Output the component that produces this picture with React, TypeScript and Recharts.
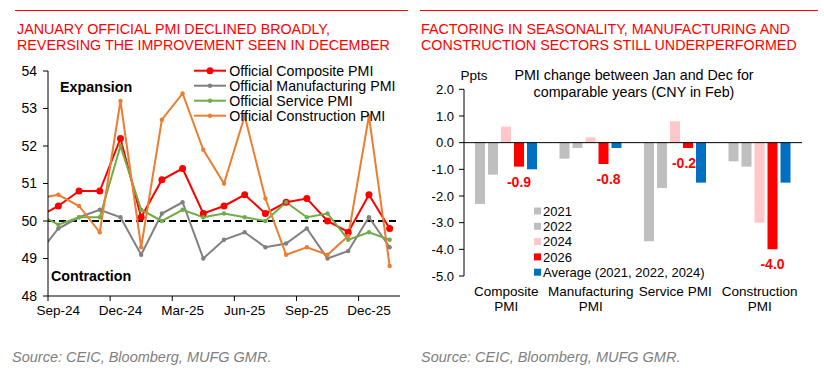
import React from "react";
import { LineChart, Line, XAxis, YAxis, ReferenceLine, BarChart, Bar, LabelList } from "recharts";

const FONT = "'Liberation Sans', Arial, sans-serif";

// left chart: official PMI, monthly (Aug-24 sits just outside the axis window)
const MONTHS = ["Aug-24", "Sep-24", "Oct-24", "Nov-24", "Dec-24", "Jan-25", "Feb-25", "Mar-25", "Apr-25", "May-25", "Jun-25", "Jul-25", "Aug-25", "Sep-25", "Oct-25", "Nov-25", "Dec-25", "Jan-26"];
const COMPOSITE = [50.1, 50.4, 50.8, 50.8, 52.2, 50.1, 51.1, 51.4, 50.2, 50.4, 50.7, 50.2, 50.5, 50.6, 50.0, 49.7, 50.7, 49.8];
const MANUFACTURING = [49.1, 49.8, 50.1, 50.3, 50.1, 49.1, 50.2, 50.5, 49.0, 49.5, 49.7, 49.3, 49.4, 49.8, 49.0, 49.2, 50.1, 49.3];
const SERVICE = [50.2, 49.9, 50.1, 50.1, 52.0, 50.3, 50.0, 50.3, 50.1, 50.2, 50.1, 50.0, 50.5, 50.1, 50.2, 49.5, 49.7, 49.5];
const CONSTRUCTION = [50.6, 50.7, 50.4, 49.7, 53.2, 49.3, 52.7, 53.4, 51.9, 51.0, 52.8, 50.6, 49.1, 49.3, 49.1, 49.6, 52.8, 48.8];
const PMI_TICKS = [48, 49, 50, 51, 52, 53, 54];
const QUARTER_TICKS = [0.5, 3.5, 6.5, 9.5, 12.5, 15.5];

// right chart: Jan minus Dec change, ppts
const SECTORS = ["Composite\nPMI", "Manufacturing\nPMI", "Service PMI", "Construction\nPMI"];
const Y2021 = [-2.3, -0.6, -3.7, -0.7];
const Y2022 = [-1.2, -0.2, -1.7, -0.9];
const Y2024 = [0.6, 0.2, 0.8, -3.0];
const Y2026 = [-0.9, -0.8, -0.2, -4.0];
const AVERAGE = [-1.0, -0.2, -1.5, -1.5];
const CHANGE_TICKS = [-5, -4, -3, -2, -1, 0, 1, 2];

const pmiRows = MONTHS.map((m, i) => ({
  i, month: m,
  composite: COMPOSITE[i], manufacturing: MANUFACTURING[i], service: SERVICE[i], construction: CONSTRUCTION[i],
}));

const changeRows = SECTORS.map((s, i) => ({
  name: s, y2021: Y2021[i], y2022: Y2022[i], y2024: Y2024[i], y2026: Y2026[i], avg: AVERAGE[i],
}));

const LINES = [
  { key: "composite", name: "Official Composite PMI", color: "#FF0000", r: 3.5 },
  { key: "manufacturing", name: "Official Manufacturing PMI", color: "#808080", r: 2.2 },
  { key: "service", name: "Official Service PMI", color: "#70AD47", r: 2.2 },
  { key: "construction", name: "Official Construction PMI", color: "#ED7D31", r: 2.2 },
];

const BARS = [
  { key: "y2021", name: "2021", color: "#BFBFBF" },
  { key: "y2022", name: "2022", color: "#BFBFBF" },
  { key: "y2024", name: "2024", color: "#FFC7C7" },
  { key: "y2026", name: "2026", color: "#FF0000" },
  { key: "avg", name: "Average (2021, 2022, 2024)", color: "#0070C0" },
];

const LABEL_DX = [0, 5, -4, 0];

// eslint-disable-next-line @typescript-eslint/no-explicit-any
function MonthTick({ x, y, payload }: any) {
  const label = MONTHS[payload.value + 0.5];
  return (
    <text x={x + 10.35} y={y} dy={14} textAnchor="middle" fontSize={13.5} fill="#000" fontFamily={FONT}>{label}</text>
  );
}

// eslint-disable-next-line @typescript-eslint/no-explicit-any
function SectorTick({ x, y, payload }: any) {
  const lines = String(payload.value).split("\n");
  return (
    <text x={x} y={y} textAnchor="middle" fontSize={13.5} fill="#000" fontFamily={FONT}>
      {lines.map((l, k) => <tspan key={k} x={x} dy={k === 0 ? 20 : 15}>{l}</tspan>)}
    </text>
  );
}

// eslint-disable-next-line @typescript-eslint/no-explicit-any
function DropLabel(props: any) {
  const vb = props.viewBox ?? props;
  const { x, y, width, height } = vb;
  const bottom = Math.max(y, y + height);
  const dx = LABEL_DX[props.index] ?? 0;
  return (
    <text x={x + width / 2 + dx} y={bottom + 20} textAnchor="middle" fontSize={14} fontWeight="bold" fill="#FF0000" fontFamily={FONT}>
      {Number(props.value).toFixed(1)}
    </text>
  );
}

function Overlay() {
  return (
    <svg width={824} height={384} style={{ position: "absolute", left: 0, top: 0, pointerEvents: "none" }} fontFamily={FONT}>
      {/* headers */}
      <line x1={15} x2={408} y1={10.5} y2={10.5} stroke="#FF0000" />
      <line x1={420} x2={818} y1={10.5} y2={10.5} stroke="#FF0000" />
      <text x={17} y={34.3} fontSize={14.3} fill="#FF0000">JANUARY OFFICIAL PMI DECLINED BROADLY,</text>
      <text x={17} y={50} fontSize={14.3} fill="#FF0000">REVERSING THE IMPROVEMENT SEEN IN DECEMBER</text>
      <text x={421} y={34.3} fontSize={14.3} fill="#FF0000">FACTORING IN SEASONALITY, MANUFACTURING AND</text>
      <text x={421} y={50} fontSize={14.3} fill="#FF0000">CONSTRUCTION SECTORS STILL UNDERPERFORMED</text>

      {/* left chart annotations + legend */}
      <text x={60} y={92} fontSize={14.3} fontWeight="bold" fill="#000">Expansion</text>
      <text x={51} y={281} fontSize={14.3} fontWeight="bold" fill="#000">Contraction</text>
      {LINES.map((s, k) => {
        const cy = 70.7 + k * 15;
        return (
          <g key={s.key}>
            <line x1={194} x2={226} y1={cy} y2={cy} stroke={s.color} strokeWidth={2} />
            <circle cx={210} cy={cy} r={s.r} fill={s.color} />
            <text x={229.3} y={cy + 5} fontSize={14.2} fill="#000">{s.name}</text>
          </g>
        );
      })}

      {/* right chart annotations + legend */}
      <text x={460.5} y={80} fontSize={13.5} fill="#000">Ppts</text>
      <text x={634} y={80} fontSize={14.3} fill="#000" textAnchor="middle">PMI change between Jan and Dec for</text>
      <text x={634} y={96.5} fontSize={14.3} fill="#000" textAnchor="middle">comparable years (CNY in Feb)</text>
      {BARS.map((b, k) => {
        const cy = 211 + k * 15.3;
        return (
          <g key={b.key}>
            <rect x={534} y={cy - 3.5} width={7} height={7} fill={b.color} />
            <text x={543} y={cy + 4.7} fontSize={13} fill="#000">{b.name}</text>
          </g>
        );
      })}

      {/* sources */}
      <text x={12} y={362} fontSize={14.5} fontStyle="italic" fill="#7F7F7F">Source: CEIC, Bloomberg, MUFG GMR.</text>
      <text x={421} y={362} fontSize={14.5} fontStyle="italic" fill="#7F7F7F">Source: CEIC, Bloomberg, MUFG GMR.</text>
    </svg>
  );
}

export default function App() {
  return (
    <div style={{ position: "absolute", left: 0, top: 0, width: 824, height: 384, background: "#fff", fontFamily: FONT }}>
      <div style={{ position: "absolute", left: 0, top: 0 }}>
        <LineChart width={410} height={384} data={pmiRows} margin={{ top: 71, right: 10, bottom: 58, left: 0 }}>
          <XAxis dataKey="i" type="number" domain={[0.5, 17.5]} allowDataOverflow ticks={QUARTER_TICKS} interval={0}
            tick={<MonthTick />} tickSize={5} tickMargin={0} tickLine={{ stroke: "#000" }} axisLine={{ stroke: "#000" }} height={30} />
          <YAxis type="number" domain={[48, 54]} ticks={PMI_TICKS} interval={0} width={48}
            tick={{ fontSize: 14, fill: "#000", fontFamily: FONT }} tickSize={5} tickMargin={6}
            tickLine={{ stroke: "#000" }} axisLine={{ stroke: "#000" }} />
          <ReferenceLine y={50} stroke="#000" strokeWidth={2} strokeDasharray="7 4" />
          {LINES.map((s) => (
            <Line key={s.key} type="linear" dataKey={s.key} name={s.name} stroke={s.color} strokeWidth={2}
              dot={{ r: s.r, fill: s.color, stroke: s.color, strokeWidth: 0 }} activeDot={false} isAnimationActive={false} />
          ))}
        </LineChart>
      </div>

      <div style={{ position: "absolute", left: 410, top: 0 }}>
        <BarChart width={414} height={384} data={changeRows} margin={{ top: 89.3, right: 22, bottom: 68, left: 0 }}
          barSize={10} barGap={3}>
          <XAxis dataKey="name" axisLine={false} tickLine={false} tickSize={0} tickMargin={0} height={40} interval={0}
            tick={<SectorTick />} />
          <YAxis type="number" domain={[-5, 2]} ticks={CHANGE_TICKS} interval={0} width={54}
            tickFormatter={(v: number) => v.toFixed(1)}
            tick={{ fontSize: 13, fill: "#000", fontFamily: FONT }} tickSize={5} tickMargin={5}
            tickLine={{ stroke: "#000" }} axisLine={{ stroke: "#000" }} />
          {BARS.map((b) => (
            <Bar key={b.key} dataKey={b.key} name={b.name} fill={b.color} isAnimationActive={false}>
              {b.key === "y2026" && <LabelList dataKey="y2026" content={<DropLabel />} />}
            </Bar>
          ))}
          <ReferenceLine y={0} stroke="#000" strokeWidth={1} />
        </BarChart>
      </div>

      <Overlay />
    </div>
  );
}
